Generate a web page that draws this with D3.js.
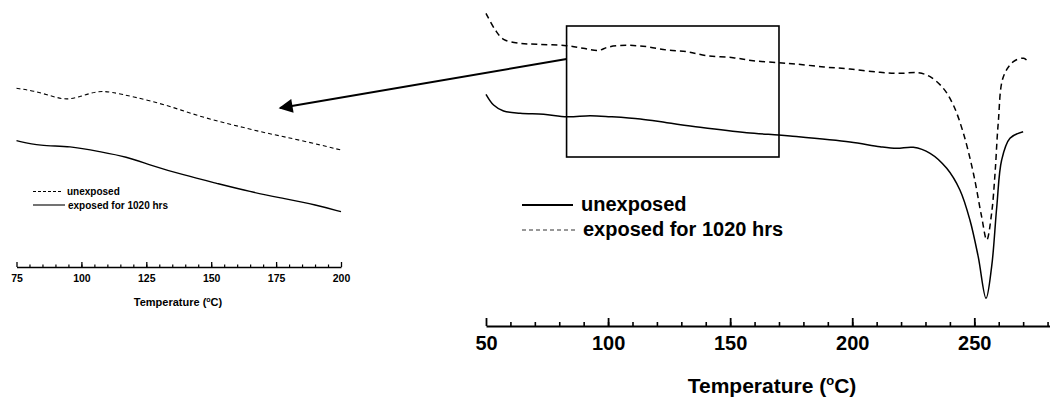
<!DOCTYPE html>
<html>
<head>
<meta charset="utf-8">
<script src="https://cdn.jsdelivr.net/npm/d3@7"></script>
<style>
  body { margin: 0; background: #fff; }
  svg { display: block; font-family: "Liberation Sans", Arial, sans-serif; }
</style>
</head>
<body>
<svg id="chart" width="1050" height="402"></svg>
<script>
// Main DSC trace (temperature in °C, heat flow in arbitrary units)
const mainUnexposedT = [50, 53.1, 57.2, 64, 73.6, 83.2, 92.7, 100.9, 113.2, 124.1, 137.7, 156.8, 169.8, 174.6, 199.1, 211.4, 218.2, 225, 231.9, 238.7, 244.1, 248.2, 251.6, 254.8, 257.1, 259.2, 261.2, 264.6, 270];
const mainUnexposedV = [21.57, 20.5, 19.9, 19.67, 19.57, 19.33, 19.43, 19.33, 19.1, 18.73, 18.27, 17.73, 17.5, 17.4, 16.8, 16.33, 16.17, 16.27, 15.67, 14.17, 12.0, 9.0, 5.33, 1.17, 4.33, 10.33, 15.0, 17.17, 17.83];

const mainExposedT = [50, 53.8, 57.2, 64, 70.9, 82.9, 89.8, 96, 100.1, 107.7, 115.9, 124.1, 132.3, 140.5, 151.2, 159.4, 169.6, 176.9, 188.5, 199.1, 211.4, 219.6, 227.1, 231.9, 237.3, 241.4, 245.5, 249.6, 253, 255.1, 257.1, 258.5, 259.8, 261.9, 266, 270.2, 272.1];
const mainExposedV = [29.67, 28.0, 27.07, 26.67, 26.57, 26.43, 26.17, 25.95, 26.3, 26.47, 26.33, 26.0, 25.83, 25.43, 25.23, 24.93, 24.73, 24.6, 24.3, 24.1, 23.77, 23.67, 23.73, 23.33, 22.17, 20.5, 17.7, 13.7, 9.33, 7.0, 9.7, 13.7, 18.7, 23.33, 24.83, 25.17, 24.83];

// Zoomed inset (75-200 °C)
const insetUnexposedT = [75, 81.5, 89.2, 94.3, 99.5, 105.9, 111, 120, 132.9, 145.7, 158.5, 171.4, 184.2, 200];
const insetUnexposedV = [13.17, 12.93, 12.33, 12.0, 12.33, 12.9, 12.83, 12.33, 11.5, 10.33, 9.5, 8.67, 8.0, 7.0];
const insetExposedT = [75, 84.1, 95.6, 107.2, 117.4, 126.4, 139.3, 152.1, 164.9, 177.8, 190.6, 200];
const insetExposedV = [7.93, 7.4, 7.4, 6.83, 6.33, 5.5, 4.5, 3.67, 2.83, 2.17, 1.5, 0.83];

// zoom window marked on the main trace, in data units
const zoomBoxT = [83, 170];
const zoomBoxV = [28.4, 15.3];

const mainMajorTicks = [50, 100, 150, 200, 250];
const insetMajorTicks = [75, 100, 125, 150, 175, 200];

const svg = d3.select("#chart");

const zip = (xs, ys) => xs.map((x, i) => [x, ys[i]]);

// ---------- main panel ----------
const x = d3.scaleLinear().domain([50, 281]).range([486, 1050]);
const y = d3.scaleLinear().domain([0, 30]).range([310, 10]);
const mainLine = d3.line().x(d => x(d[0])).y(d => y(d[1])).curve(d3.curveCatmullRom.alpha(0.5));
const mainBase = 326;

svg.append("path")
    .datum(zip(mainUnexposedT, mainUnexposedV))
    .attr("d", mainLine)
    .attr("fill", "none").attr("stroke", "#000").attr("stroke-width", 1.5);

svg.append("path")
    .datum(zip(mainExposedT, mainExposedV))
    .attr("d", mainLine)
    .attr("fill", "none").attr("stroke", "#000").attr("stroke-width", 1.5)
    .attr("stroke-dasharray", "6,4");

// box around the zoomed region
svg.append("rect")
    .attr("x", x(zoomBoxT[0]))
    .attr("y", y(zoomBoxV[0]))
    .attr("width", x(zoomBoxT[1]) - x(zoomBoxT[0]))
    .attr("height", y(zoomBoxV[1]) - y(zoomBoxV[0]))
    .attr("fill", "none").attr("stroke", "#000").attr("stroke-width", 1.6);

// minor ticks
svg.append("g")
    .attr("transform", `translate(0,${mainBase})`)
    .call(d3.axisBottom(x).tickValues(d3.range(60, 281, 10)).tickSizeInner(-4).tickSizeOuter(0).tickFormat(""))
    .call(g => g.select(".domain").remove())
    .call(g => g.selectAll("line").attr("stroke-width", 1.6));

const mainAxis = svg.append("g")
    .attr("transform", `translate(0,${mainBase})`)
    .call(d3.axisBottom(x).tickValues(mainMajorTicks).tickSizeInner(-8).tickSizeOuter(0).tickPadding(10));
mainAxis.select(".domain").attr("stroke-width", 2);
mainAxis.selectAll("line").attr("stroke-width", 1.8);
mainAxis.selectAll("text")
    .attr("font-family", "Liberation Sans, Arial, sans-serif")
    .attr("font-size", 20).attr("font-weight", "bold").attr("fill", "#000");

const mainTitle = svg.append("text")
    .attr("x", 772).attr("y", 393)
    .attr("text-anchor", "middle")
    .attr("font-size", 21).attr("font-weight", "bold");
mainTitle.append("tspan").text("Temperature (");
mainTitle.append("tspan").attr("font-size", 13).attr("dy", -8).text("o");
mainTitle.append("tspan").attr("dy", 8).text("C)");

// main legend
const mainLegend = [
    { label: "unexposed", dash: null, y: 205 },
    { label: "exposed for 1020 hrs", dash: "4,3", y: 230 }
];
mainLegend.forEach(d => {
    svg.append("line")
        .attr("x1", 522).attr("x2", d.dash ? 577 : 573).attr("y1", d.y).attr("y2", d.y)
        .attr("stroke", d.dash ? "#333" : "#000")
        .attr("stroke-width", d.dash ? 1.2 : 2)
        .attr("stroke-dasharray", d.dash);
    svg.append("text")
        .attr("x", d.dash ? 583 : 581).attr("y", d.y + 6)
        .attr("font-size", 20).attr("font-weight", "bold")
        .text(d.label);
});

// arrow from the box to the inset
svg.append("defs").append("marker")
    .attr("id", "arrow")
    .attr("viewBox", "0 -5 10 10")
    .attr("refX", 9)
    .attr("refY", 0)
    .attr("orient", "auto")
    .attr("markerUnits", "userSpaceOnUse")
    .attr("markerWidth", 18)
    .attr("markerHeight", 14)
    .append("path")
    .attr("d", "M0,-5L10,0L0,5Z")
    .style("fill", "#000");

svg.append("line")
    .attr("x1", x(zoomBoxT[0])).attr("y1", 59)
    .attr("x2", 280).attr("y2", 108)
    .attr("stroke", "#000").attr("stroke-width", 2)
    .attr("marker-end", "url(#arrow)");

// ---------- inset panel ----------
const xi = d3.scaleLinear().domain([75, 200]).range([16.5, 341]);
const yi = d3.scaleLinear().domain([0, 15]).range([220, 70]);
const insetLine = d3.line().x(d => xi(d[0])).y(d => yi(d[1])).curve(d3.curveBasis);
const insetBase = 267;

svg.append("path")
    .datum(zip(insetUnexposedT, insetUnexposedV))
    .attr("d", insetLine)
    .attr("fill", "none").attr("stroke", "#000").attr("stroke-width", 1.1)
    .attr("stroke-dasharray", "4,3");

svg.append("path")
    .datum(zip(insetExposedT, insetExposedV))
    .attr("d", insetLine)
    .attr("fill", "none").attr("stroke", "#000").attr("stroke-width", 1.3);

svg.append("g")
    .attr("transform", `translate(0,${insetBase})`)
    .call(d3.axisBottom(xi).tickValues(d3.range(80, 200, 5)).tickSizeInner(-2.5).tickSizeOuter(0).tickFormat(""))
    .call(g => g.select(".domain").remove())
    .call(g => g.selectAll("line").attr("stroke-width", 1.2));

const insetAxis = svg.append("g")
    .attr("transform", `translate(0,${insetBase})`)
    .call(d3.axisBottom(xi).tickValues(insetMajorTicks).tickSizeInner(-5).tickSizeOuter(0).tickPadding(8));
insetAxis.select(".domain").attr("stroke-width", 1.5);
insetAxis.selectAll("line").attr("stroke-width", 1.3);
insetAxis.selectAll("text")
    .attr("font-family", "Liberation Sans, Arial, sans-serif")
    .attr("font-size", 10.5).attr("font-weight", "bold").attr("fill", "#000");

const insetTitle = svg.append("text")
    .attr("x", 178).attr("y", 306)
    .attr("text-anchor", "middle")
    .attr("font-size", 11).attr("font-weight", "bold");
insetTitle.append("tspan").text("Temperature (");
insetTitle.append("tspan").attr("font-size", 7).attr("dy", -4).text("o");
insetTitle.append("tspan").attr("dy", 4).text("C)");

const insetLegend = [
    { label: "unexposed", dash: "3,2", y: 191.5 },
    { label: "exposed for 1020 hrs", dash: null, y: 205 }
];
insetLegend.forEach(d => {
    svg.append("line")
        .attr("x1", 33).attr("x2", d.dash ? 62 : 65).attr("y1", d.y).attr("y2", d.y)
        .attr("stroke", "#000").attr("stroke-width", 1.1)
        .attr("stroke-dasharray", d.dash);
    svg.append("text")
        .attr("x", d.dash ? 67 : 68).attr("y", d.y + 3.5)
        .attr("font-size", 10).attr("font-weight", "bold")
        .text(d.label);
});
</script>
</body>
</html>
